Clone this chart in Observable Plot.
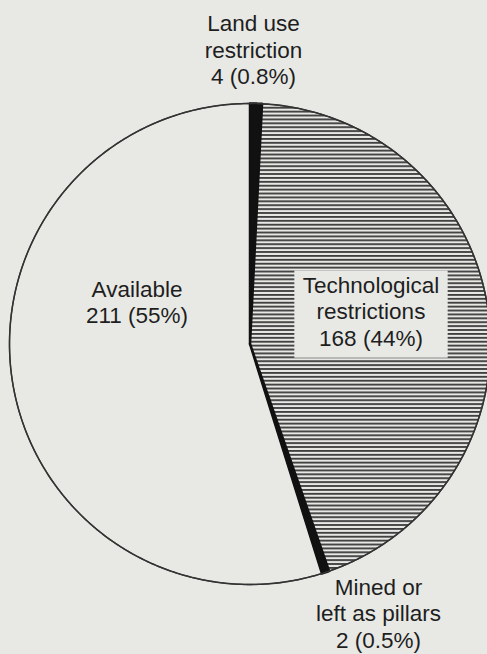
<!DOCTYPE html>
<html><head><meta charset="utf-8">
<script src="https://cdn.jsdelivr.net/npm/d3@7"></script>
<script src="https://cdn.jsdelivr.net/npm/@observablehq/plot@0.6"></script>
<style>
html,body{margin:0;padding:0;background:#e8e9e5;overflow:hidden}
#chart{width:487px;height:654px}
</style></head><body><div id="chart"></div>
<script>
// ---- data ----
const categories = ["Land use restriction", "Technological restrictions", "Mined or left as pillars", "Available"];
const counts = [4, 168, 2, 211];
const percents = [0.8, 44, 0.5, 55];
const percentText = ["0.8%", "44%", "0.5%", "55%"];
const labelNames = ["Land use\nrestriction", "Technological\nrestrictions", "Mined or\nleft as pillars", "Available"];

// ---- layout / style ----
const W = 487, H = 654;
const cx = 249.5, cy = 343.5, R = 240.5;
const BG = "#e8e9e5";
const INK = "#1e1e1e";
const FONT = "'Liberation Sans', Arial, Helvetica, sans-serif";
const sliceStyle = {
  "Land use restriction": {fill: "#111", stroke: "#111", sw: 2.5},
  "Technological restrictions": {fill: "url(#hatch)", stroke: "#333", sw: 1.3},
  "Mined or left as pillars": {fill: "#111", stroke: "#111", sw: 2.5},
  "Available": {fill: BG, stroke: "#333", sw: 1.3}
};
const FS = 22.5, LH = 26.5;
// label anchor: [center x, top y of text block] in pixels
const labelPos = {
  "Land use restriction": [253, 12],
  "Technological restrictions": [370.5, 273.5],
  "Mined or left as pillars": [378, 575.5],
  "Available": [136.5, 277.5]
};
const boxed = "Technological restrictions";

const rows = categories.map((c, i) => ({cat: c, count: counts[i], pct: percents[i], pctText: percentText[i], name: labelNames[i]}));
const arcs = d3.pie().sort(null).value(d => d.pct)(rows);

const polys = arcs.map(p => {
  const pts = [{x: cx, y: cy}];
  const steps = Math.max(2, Math.ceil((p.endAngle - p.startAngle) / (Math.PI / 360)));
  for (let i = 0; i <= steps; i++) {
    const a = p.startAngle + (p.endAngle - p.startAngle) * i / steps;
    pts.push({x: cx + R * Math.sin(a), y: cy - R * Math.cos(a)});
  }
  return {cat: p.data.cat, pts};
});

const circle = d3.range(0, 721).map(i => {
  const a = i / 720 * 2 * Math.PI;
  return {x: cx + R * Math.sin(a), y: cy - R * Math.cos(a)};
});

const labels = rows.map(r => ({
  x: labelPos[r.cat][0],
  y: labelPos[r.cat][1],
  text: `${r.name}\n${r.count} (${r.pctText})`,
  cat: r.cat
}));

// background box for the boxed label, sized from the text metrics
const ctx = document.createElement("canvas").getContext("2d");
ctx.font = `${FS}px ${FONT}`;
const boxes = labels.filter(l => l.cat === boxed).map(l => {
  const lines = l.text.split("\n");
  const w = Math.max(...lines.map(s => ctx.measureText(s).width));
  return {
    x1: l.x - w / 2 - 8, x2: l.x + w / 2 + 9,
    y1: l.y - 3, y2: l.y + (lines.length - 1) * LH + FS * 0.72 + 15
  };
});

const order = ["Available", "Technological restrictions", "Land use restriction", "Mined or left as pillars"];

const svg = Plot.plot({
  width: W, height: H,
  margin: 0,
  x: {domain: [0, W], range: [0, W], axis: null},
  y: {domain: [0, H], range: [0, H], axis: null},
  style: {background: BG, fontFamily: FONT, overflow: "hidden"},
  marks: [
    ...order.map(c => {
      const s = sliceStyle[c];
      const poly = polys.find(p => p.cat === c);
      return Plot.line(poly.pts, {x: "x", y: "y", curve: "linear-closed", fill: s.fill, stroke: s.stroke, strokeWidth: s.sw, strokeLinejoin: "round"});
    }),
    Plot.line(circle, {x: "x", y: "y", curve: "linear-closed", stroke: "#333", strokeWidth: 1.5, fill: "none"}),
    Plot.rect(boxes, {x1: "x1", x2: "x2", y1: "y1", y2: "y2", fill: BG}),
    Plot.text(labels, {x: "x", y: "y", text: "text", lineAnchor: "top", lineHeight: LH / FS, fontSize: FS, fill: INK, textAnchor: "middle"})
  ]
});

document.getElementById("chart").appendChild(svg);

// hatch pattern
const defs = d3.select(svg).insert("defs", ":first-child");
const pat = defs.append("pattern").attr("id", "hatch").attr("patternUnits", "userSpaceOnUse").attr("width", 8).attr("height", 3.9);
pat.append("rect").attr("width", 8).attr("height", 3.9).attr("fill", BG);
pat.append("rect").attr("y", 1).attr("width", 8).attr("height", 1.8).attr("fill", "#3a3a3a");
</script>
</body></html>
